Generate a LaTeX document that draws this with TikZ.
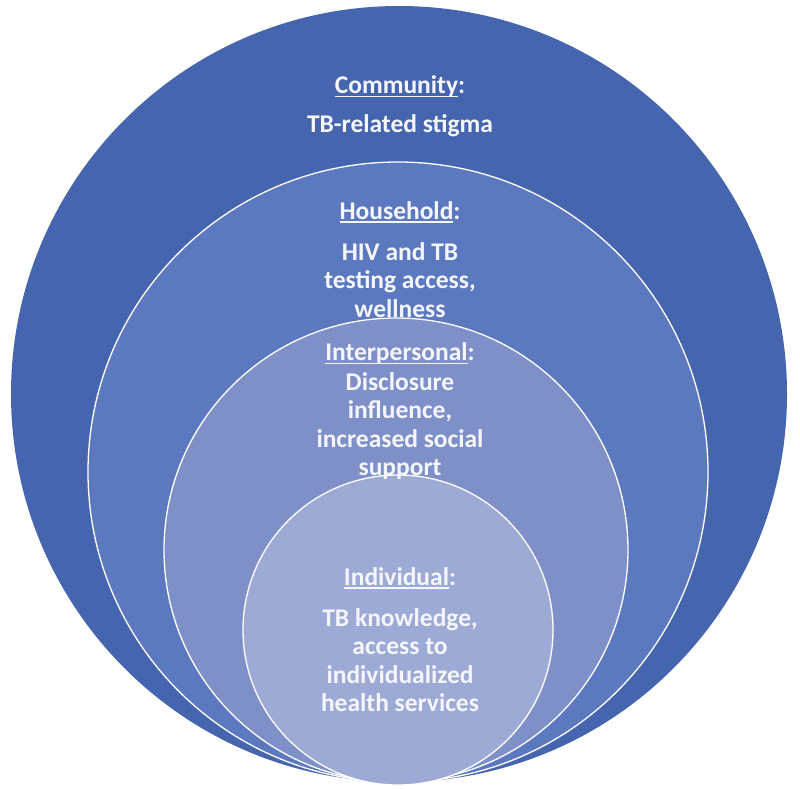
\documentclass[tikz,border=0pt]{standalone}
\usepackage{fontspec}
\setmainfont{Carlito}
\usepackage{tikz}
\usetikzlibrary{positioning}
\definecolor{commfill}{HTML}{4566AE}
\definecolor{housefill}{HTML}{5C79BF}
\definecolor{interfill}{HTML}{7F90C8}
\definecolor{indivfill}{HTML}{9CAAD5}
\definecolor{ink}{HTML}{F4F6FB}
\newcommand{\ulword}[1]{\setbox0\hbox{#1}\rlap{\rule[-3.5pt]{\wd0}{1.6pt}}\box0}
\tikzset{
  ring/.style={circle, draw=white, line width=1.3pt, inner sep=0pt},
  head/.style={text=ink, font=\fontsize{25.5}{29}\selectfont\bfseries},
  body/.style={text=ink, font=\fontsize{25.5}{28.5}\selectfont\bfseries, align=center},
}
\begin{document}
\begin{tikzpicture}[x=1pt, y=-1pt]
\useasboundingbox (0,0) rectangle (800,788);
% nested levels
\node[ring, draw=none, fill=commfill, minimum size=776pt] (community) at (399,394) {};
\node[ring, fill=housefill, minimum size=620pt] (household) at (398,472) {};
\node[ring, fill=interfill, minimum size=464pt] (interpersonal) at (396,550) {};
\node[ring, fill=indivfill, minimum size=310pt] (individual) at (398,630) {};
% labels
\node[head] (commhead) at (400,87) {\ulword{Community}:};
\node[body] (commbody) at (400,126) {TB-related stigma};
\node[head] (househead) at (400,212) {\ulword{Household}:};
\node[body] (housebody) at (400,280) {HIV and TB\\testing access,\\wellness};
\node[head] (interhead) at (400,354) {\ulword{Interpersonal}:};
\node[body] (interbody) at (400,426) {Disclosure\\influence,\\increased social\\support};
\node[head] (indivhead) at (400,578) {\ulword{Individual}:};
\node[body] (indivbody) at (400,660) {TB knowledge,\\access to\\individualized\\health services};
\end{tikzpicture}
\end{document}
